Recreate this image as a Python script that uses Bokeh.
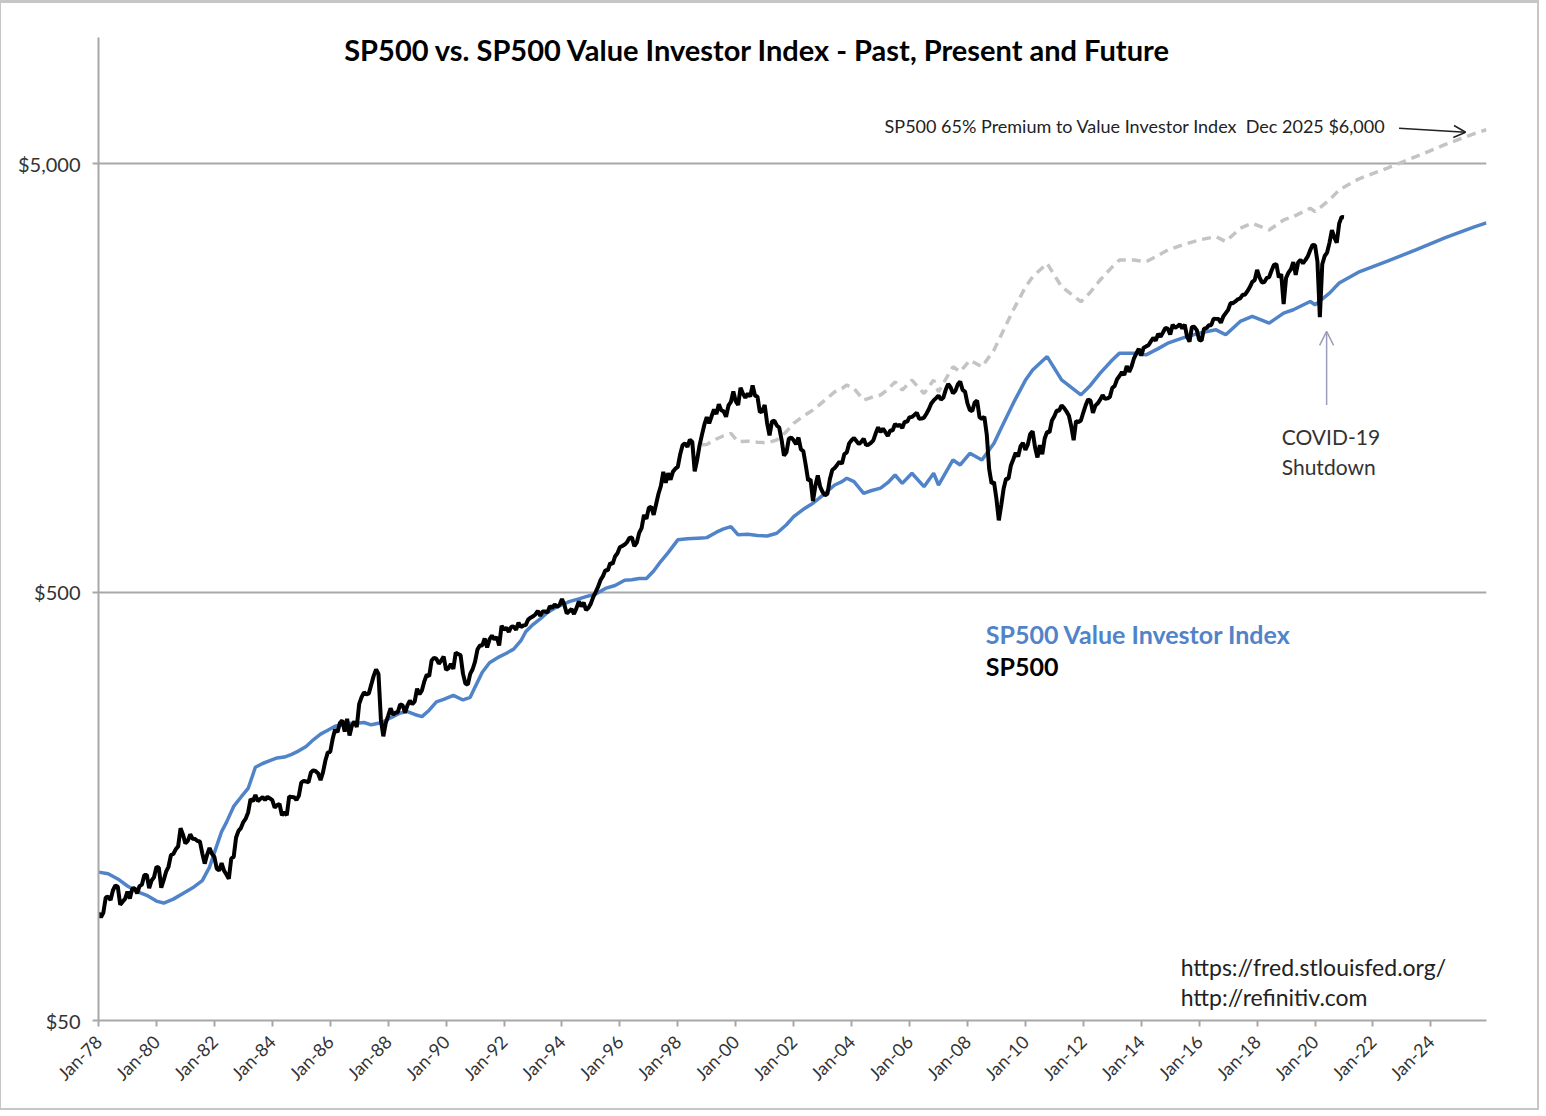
import math
from bokeh.plotting import figure
from bokeh.models import FixedTicker, NumeralTickFormatter, Range1d, Arrow, OpenHead, Label
from bokeh.embed import file_html
from bokeh.resources import INLINE

# ---------------- data ----------------
title_text = "SP500 vs. SP500 Value Investor Index - Past, Present and Future"
tick_years = list(range(1978, 2025, 2))
tick_labels = ["Jan-78", "Jan-80", "Jan-82", "Jan-84", "Jan-86", "Jan-88", "Jan-90", "Jan-92",
               "Jan-94", "Jan-96", "Jan-98", "Jan-00", "Jan-02", "Jan-04", "Jan-06", "Jan-08",
               "Jan-10", "Jan-12", "Jan-14", "Jan-16", "Jan-18", "Jan-20", "Jan-22", "Jan-24"]
y_ticks = [50, 500, 5000]

# SP500, monthly from Jan-1978 to Jan-2021
sp500_start = 1978
sp500_monthly = [
    89.25, 87.04, 89.21, 96.83, 97.24, 95.53, 100.68, 103.29, 102.54, 93.15, 94.70, 96.11,
    99.93, 96.28, 101.59, 101.76, 99.08, 102.91, 103.81, 109.32, 109.32, 101.82, 106.16, 107.94,
    114.16, 113.66, 102.09, 106.29, 111.24, 114.24, 121.67, 122.38, 125.46, 127.47, 140.52, 135.76,
    129.55, 131.27, 136.00, 132.81, 132.59, 131.21, 130.92, 122.79, 116.18, 121.89, 126.35, 122.55,
    120.40, 113.11, 111.96, 116.44, 111.88, 109.61, 107.09, 119.51, 120.42, 133.71, 138.54, 140.64,
    145.30, 148.06, 152.96, 164.42, 162.39, 168.11, 162.56, 164.40, 166.07, 163.55, 166.40, 164.93,
    163.41, 157.06, 159.18, 160.05, 150.55, 153.18, 150.66, 166.68, 166.10, 166.09, 163.58, 167.24,
    179.63, 181.18, 180.66, 179.83, 189.55, 191.85, 190.92, 188.63, 182.08, 189.82, 202.17, 211.28,
    211.78, 226.92, 238.90, 235.52, 247.35, 250.84, 236.12, 252.93, 231.32, 243.98, 249.22, 242.17,
    274.08, 284.20, 291.70, 288.36, 290.10, 304.00, 318.66, 329.80, 321.83, 251.79, 230.30, 247.08,
    257.07, 267.82, 258.89, 261.33, 262.16, 273.50, 272.02, 261.52, 271.91, 278.97, 273.70, 277.72,
    297.47, 288.86, 294.87, 309.64, 320.52, 317.98, 346.08, 351.45, 349.15, 340.36, 345.99, 353.40,
    329.08, 331.89, 339.94, 330.80, 361.23, 358.02, 356.15, 322.56, 306.05, 304.00, 322.22, 330.22,
    343.93, 367.07, 375.22, 375.34, 389.83, 371.16, 387.81, 395.43, 387.86, 392.46, 375.22, 417.09,
    408.79, 412.70, 403.69, 414.95, 415.35, 408.14, 424.21, 414.03, 417.80, 418.68, 431.35, 435.71,
    438.78, 443.38, 451.67, 440.19, 450.19, 450.53, 448.13, 463.56, 458.93, 467.83, 461.79, 466.45,
    481.61, 467.14, 445.77, 450.91, 456.50, 444.27, 458.26, 475.49, 462.69, 472.35, 453.69, 459.27,
    470.42, 487.39, 500.71, 514.71, 533.40, 544.75, 562.06, 561.88, 584.41, 581.50, 605.37, 615.93,
    636.02, 640.43, 645.50, 654.17, 669.12, 670.63, 639.95, 651.99, 687.31, 705.27, 757.02, 740.74,
    786.16, 790.82, 757.12, 801.34, 848.28, 885.14, 954.29, 899.47, 947.28, 914.62, 955.40, 970.43,
    980.28, 1049.34, 1101.75, 1111.75, 1090.82, 1133.84, 1120.67, 957.28, 1017.01, 1098.67, 1163.63, 1229.23,
    1279.64, 1238.33, 1286.37, 1335.18, 1301.84, 1372.71, 1328.72, 1320.41, 1282.71, 1362.93, 1388.91, 1469.25,
    1394.46, 1366.42, 1498.58, 1452.43, 1420.60, 1454.60, 1430.83, 1517.68, 1436.51, 1429.40, 1314.95, 1320.28,
    1366.01, 1239.94, 1160.33, 1249.46, 1255.82, 1224.42, 1211.23, 1133.58, 1040.94, 1059.78, 1139.45, 1148.08,
    1130.20, 1106.73, 1147.39, 1076.92, 1067.14, 989.82, 911.62, 916.07, 815.28, 885.76, 936.31, 879.82,
    855.70, 841.15, 848.18, 916.92, 963.59, 974.50, 990.31, 1008.01, 995.97, 1050.71, 1058.20, 1111.92,
    1131.13, 1144.94, 1126.21, 1107.30, 1120.68, 1140.84, 1101.72, 1104.24, 1114.58, 1130.20, 1173.82, 1211.92,
    1181.27, 1203.60, 1180.59, 1156.85, 1191.50, 1191.33, 1234.18, 1220.33, 1228.81, 1207.01, 1249.48, 1248.29,
    1280.08, 1280.66, 1294.87, 1310.61, 1270.09, 1270.20, 1276.66, 1303.82, 1335.85, 1377.94, 1400.63, 1418.30,
    1438.24, 1406.82, 1420.86, 1482.37, 1530.62, 1503.35, 1455.27, 1473.99, 1526.75, 1549.38, 1481.14, 1468.36,
    1378.55, 1330.63, 1322.70, 1385.59, 1400.38, 1280.00, 1267.38, 1282.83, 1166.36, 968.75, 896.24, 903.25,
    825.88, 735.09, 797.87, 872.81, 919.14, 919.32, 987.48, 1020.62, 1057.08, 1036.19, 1095.63, 1115.10,
    1073.87, 1104.49, 1169.43, 1186.69, 1089.41, 1030.71, 1101.60, 1049.33, 1141.20, 1183.26, 1180.55, 1257.64,
    1286.12, 1327.22, 1325.83, 1363.61, 1345.20, 1320.64, 1292.28, 1218.89, 1131.42, 1253.30, 1246.96, 1257.60,
    1312.41, 1365.68, 1408.47, 1397.91, 1310.33, 1362.16, 1379.32, 1406.58, 1440.67, 1412.16, 1416.18, 1426.19,
    1498.11, 1514.68, 1569.19, 1597.57, 1630.74, 1606.28, 1685.73, 1632.97, 1681.55, 1756.54, 1805.81, 1848.36,
    1782.59, 1859.45, 1872.34, 1883.95, 1923.57, 1960.23, 1930.67, 2003.37, 1972.29, 2018.05, 2067.56, 2058.90,
    1994.99, 2104.50, 2067.89, 2085.51, 2107.39, 2063.11, 2103.84, 1972.18, 1920.03, 2079.36, 2080.41, 2043.94,
    1940.24, 1932.23, 2059.74, 2065.30, 2096.95, 2098.86, 2173.60, 2170.95, 2168.27, 2126.15, 2198.81, 2238.83,
    2278.87, 2363.64, 2362.72, 2384.20, 2411.80, 2423.41, 2470.30, 2471.65, 2519.36, 2575.26, 2647.58, 2673.61,
    2823.81, 2713.83, 2640.87, 2648.05, 2705.27, 2718.37, 2816.29, 2901.52, 2913.98, 2711.74, 2760.17, 2350.00,
    2704.10, 2784.49, 2834.40, 2945.83, 2752.06, 2941.76, 2980.38, 2926.46, 2976.74, 3037.56, 3140.98, 3230.78,
    3225.52, 2954.22, 2190.00, 2912.43, 3044.31, 3100.29, 3271.12, 3500.31, 3363.00, 3269.96, 3621.63, 3756.07,
    3750.00,
]

# SP500 Value Investor Index (history + projection to Dec-2025)
value_dates = [
    "1978-01", "1978-05", "1978-09", "1979-01", "1979-05", "1979-09", "1980-01", "1980-04", "1980-08", "1980-12",
    "1981-04", "1981-08", "1981-11", "1982-02", "1982-04", "1982-06", "1982-09", "1982-12", "1983-03", "1983-06",
    "1983-09", "1983-12", "1984-03", "1984-06", "1984-09", "1984-12", "1985-03", "1985-06", "1985-09", "1985-12",
    "1986-03", "1986-06", "1986-09", "1986-12", "1987-03", "1987-06", "1987-09", "1987-12", "1988-03", "1988-06",
    "1988-09", "1988-12", "1989-03", "1989-06", "1989-09", "1989-12", "1990-04", "1990-08", "1990-11", "1991-01",
    "1991-04", "1991-07", "1991-11", "1992-02", "1992-05", "1992-08", "1992-10", "1993-01", "1993-04", "1993-07",
    "1993-11", "1994-04", "1994-08", "1994-11", "1995-03", "1995-07", "1995-11", "1996-03", "1996-06", "1996-09",
    "1996-12", "1997-03", "1997-06", "1997-09", "1998-01", "1998-05", "1998-09", "1998-11", "1999-01", "1999-05",
    "1999-08", "1999-11", "2000-02", "2000-06", "2000-10", "2001-02", "2001-06", "2001-10", "2002-01", "2002-05",
    "2002-09", "2002-12", "2003-03", "2003-06", "2003-09", "2003-11", "2004-02", "2004-06", "2004-09", "2005-01",
    "2005-04", "2005-07", "2005-10", "2006-02", "2006-07", "2006-11", "2007-01", "2007-07", "2007-10", "2008-02",
    "2008-07", "2008-12", "2009-04", "2009-08", "2010-01", "2010-04", "2010-10", "2011-04", "2011-12", "2012-04",
    "2012-08", "2013-01", "2013-04", "2013-10", "2014-03", "2014-08", "2014-12", "2015-06", "2016-01", "2016-08",
    "2016-12", "2017-06", "2017-11", "2018-06", "2018-12", "2019-04", "2019-11", "2020-01", "2020-07", "2020-11",
    "2021-07", "2022-07", "2023-07", "2024-07", "2025-07", "2025-12",
]
value_index = [
    111, 110, 107, 103, 100, 98, 95, 94, 96, 99,
    102, 106, 114, 128, 138, 145, 158, 166, 174, 195,
    199, 202, 205, 206, 209, 213, 218, 226, 233, 238,
    243, 245, 247, 247, 248, 245, 247, 251, 256, 261,
    263, 259, 256, 265, 277, 281, 287, 280, 284, 300,
    325, 342, 353, 360, 368, 385, 404, 420, 433, 448,
    462, 475, 482, 488, 495, 510, 518, 533, 534, 538,
    538, 560, 590, 618, 662, 666, 668, 669, 670, 690,
    702, 711, 680, 682, 678, 676, 686, 718, 750, 780,
    806, 832, 860, 889, 905, 922, 905, 850, 862, 874,
    900, 938, 897, 947, 881, 947, 889, 1017, 990, 1054,
    1017, 1113, 1240, 1380, 1560, 1650, 1773, 1564, 1443, 1520,
    1622, 1740, 1806, 1806, 1789, 1850, 1905, 1957, 2011, 2047,
    1993, 2141, 2200, 2122, 2239, 2280, 2384, 2342, 2493, 2632,
    2790, 2960, 3150, 3360, 3560, 3636,
]

premium_pct = 65            # SP500 premium to the Value Investor Index
premium_start = "1998-11"   # dashed line starts here

# ---------------- derived x values ----------------
def ym_to_x(s):
    y, m = s.split("-")
    return int(y) + (int(m) - 1) / 12.0

sp500_x = [sp500_start + i / 12.0 for i in range(len(sp500_monthly))]
value_x = [ym_to_x(d) for d in value_dates]
i0 = value_dates.index(premium_start)
premium_x = value_x[i0:]
premium_y = [v * (1 + premium_pct / 100.0) for v in value_index[i0:]]

# ---------------- figure ----------------
FONT = "Lato"
GRID = "#a8a8a8"
BLUE = "#5183c9"

p = figure(width=1539, height=1110,
           x_range=Range1d(1978, 2025.92), y_range=Range1d(50, 9850),
           y_axis_type="log", output_backend="svg", toolbar_location=None,
           min_border_left=97, min_border_right=54, min_border_top=34, min_border_bottom=93)
p.styles = {"border-style": "solid", "border-color": "#c6c6c6",
            "border-width": "3px 2px 2px 1px"}
p.outline_line_color = None
p.background_fill_color = "white"
p.border_fill_color = "white"

p.xgrid.visible = False
p.ygrid.ticker = FixedTicker(ticks=y_ticks)
p.ygrid.grid_line_color = GRID
p.ygrid.grid_line_width = 2

p.yaxis.ticker = FixedTicker(ticks=y_ticks)
p.yaxis.formatter = NumeralTickFormatter(format="$0,0")
p.yaxis.minor_tick_line_color = None
p.yaxis.axis_line_color = GRID
p.yaxis.axis_line_width = 2
p.yaxis.major_tick_line_color = GRID
p.yaxis.major_tick_line_width = 2
p.yaxis.major_tick_out = 6
p.yaxis.major_tick_in = 0
p.yaxis.major_label_text_font = FONT
p.yaxis.major_label_text_font_size = "20px"
p.yaxis.major_label_text_color = "#333333"
p.yaxis.major_label_standoff = 12

p.xaxis.ticker = FixedTicker(ticks=tick_years)
p.xaxis.major_label_overrides = {y: lab for y, lab in zip(tick_years, tick_labels)}
p.xaxis.major_label_orientation = math.pi / 4
p.xaxis.minor_tick_line_color = None
p.xaxis.axis_line_color = GRID
p.xaxis.axis_line_width = 2
p.xaxis.major_tick_line_color = GRID
p.xaxis.major_tick_line_width = 2
p.xaxis.major_tick_out = 6
p.xaxis.major_tick_in = 0
p.xaxis.major_label_text_font = FONT
p.xaxis.major_label_text_font_size = "18px"
p.xaxis.major_label_text_color = "#333333"
p.xaxis.major_label_standoff = 12

# series
p.line(premium_x, premium_y, line_color="#c4c4c4", line_width=3.5, line_dash="9 6")
p.line(value_x, value_index, line_color=BLUE, line_width=3.5)
p.line(sp500_x, sp500_monthly, line_color="black", line_width=4)

# texts
def add_label(x, y, text, size, color="#222222", bold=False, align="left"):
    p.add_layout(Label(x=x, y=y, text=text, text_font=FONT, text_font_size=size,
                       text_color=color, text_font_style="bold" if bold else "normal",
                       text_align=align, text_baseline="middle"))

add_label(2000.76, 9230, title_text, "29px", color="black", bold=True, align="center")
add_label(2022.44, 6135, "SP500 65% Premium to Value Investor Index\u00a0 Dec 2025 $6,000", "18px",
          color="#222222", align="right")
add_label(2008.63, 399, "SP500 Value Investor Index", "25px", color=BLUE, bold=True)
add_label(2008.63, 336, "SP500", "25px", color="black", bold=True)
add_label(2018.85, 1151, "COVID-19", "21px", color="#333333")
add_label(2018.85, 980, "Shutdown", "21px", color="#333333")
add_label(2015.36, 66.5, "https://fred.stlouisfed.org/", "23px", color="#222222")
add_label(2015.36, 56.6, "http://refinitiv.com", "23px", color="#222222")

# arrows
p.add_layout(Arrow(end=OpenHead(size=12, line_color="#222222", line_width=1.5),
                   x_start=2022.9, y_start=6050, x_end=2025.2, y_end=5920,
                   line_color="#222222", line_width=1.5))
p.add_layout(Arrow(end=OpenHead(size=14, line_color="#9c9cbc", line_width=1.5),
                   x_start=2020.4, y_start=1367, x_end=2020.4, y_end=2030,
                   line_color="#9c9cbc", line_width=1.5))

open("out.html", "w").write(file_html(p, INLINE))
